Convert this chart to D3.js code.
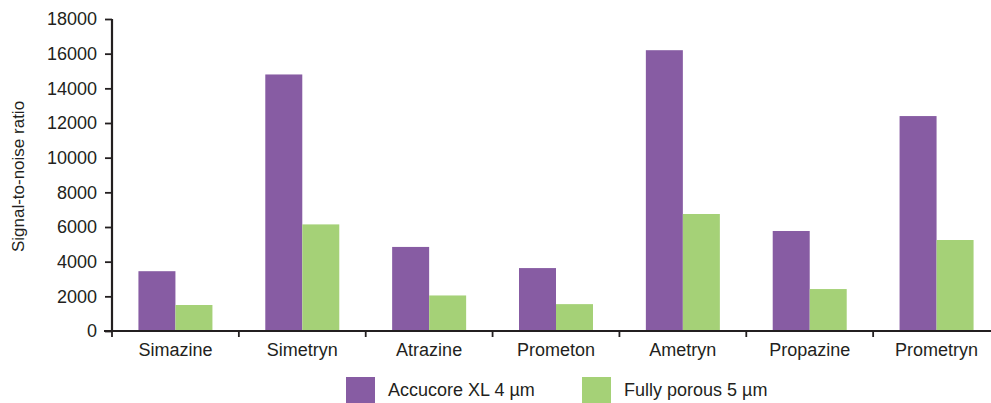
<!DOCTYPE html>
<html lang="en">

<head>
    <meta charset="UTF-8" />
    <title>Signal-to-noise ratio</title>
    <style>
        body { margin: 0; background: #fff; }
        svg text { font-family: "Liberation Sans", Arial, sans-serif; fill: #231f20; }
        .axis path, .axis line { stroke: #231f20; }
    </style>
</head>

<body>
    <svg id="chart"></svg>

    <script src="https://d3js.org/d3.v7.min.js"></script>
    <script>
        const compounds = ['Simazine', 'Simetryn', 'Atrazine', 'Prometon', 'Ametryn', 'Propazine', 'Prometryn'];
        const seriesNames = ['Accucore XL 4 µm', 'Fully porous 5 µm'];
        const accucore = [3450, 14800, 4850, 3630, 16200, 5770, 12400];
        const fullyPorous = [1500, 6150, 2050, 1550, 6750, 2420, 5250];
        const yTicks = [0, 2000, 4000, 6000, 8000, 10000, 12000, 14000, 16000, 18000];
        const colors = ['#875ca3', '#a5d177'];

        const width = 991, height = 403;
        const plotLeft = 112, plotBottom = 331, plotTop = 19, plotRight = 1000;

        const svg = d3.select('#chart').attr('width', width).attr('height', height);

        const x = d3.scaleBand().domain(compounds).range([plotLeft, plotRight]);
        const inner = d3.scaleBand().domain([0, 1]).range([0, 74]);
        const y = d3.scaleLinear().domain([0, 18000]).range([plotBottom, plotTop]);

        const rows = compounds.map((c, i) => ({ name: c, values: [accucore[i], fullyPorous[i]] }));

        const group = svg.selectAll('g.group')
            .data(rows)
            .enter().append('g')
            .attr('class', 'group')
            .attr('transform', d => `translate(${x(d.name) + (x.bandwidth() - 74) / 2},0)`);

        group.selectAll('rect')
            .data(d => d.values)
            .enter().append('rect')
            .attr('x', (d, i) => inner(i))
            .attr('width', inner.bandwidth())
            .attr('y', d => y(d))
            .attr('height', d => plotBottom - y(d))
            .attr('fill', (d, i) => colors[i]);

        // x axis: ticks at band edges
        const xAxis = svg.append('g').attr('class', 'axis')
            .attr('transform', `translate(0,${plotBottom})`);
        xAxis.append('line')
            .attr('x1', plotLeft - 8).attr('x2', plotRight)
            .attr('stroke-width', 2.2);
        xAxis.selectAll('line.tick')
            .data(compounds)
            .enter().append('line')
            .attr('class', 'tick')
            .attr('x1', d => x(d)).attr('x2', d => x(d))
            .attr('y1', 0).attr('y2', 6)
            .attr('stroke-width', 1.8);
        xAxis.selectAll('text')
            .data(compounds)
            .enter().append('text')
            .attr('x', d => x(d) + x.bandwidth() / 2)
            .attr('y', 25)
            .attr('text-anchor', 'middle')
            .style('font-size', '18px')
            .text(d => d);

        const yAxis = svg.append('g').attr('class', 'axis')
            .attr('transform', `translate(${plotLeft},0)`)
            .call(d3.axisLeft(y).tickValues(yTicks).tickSize(7).tickPadding(8).tickFormat(d3.format('d')));
        yAxis.select('.domain').attr('stroke-width', 2.2).attr('d', `M0,${plotTop}V${plotBottom}`);
        yAxis.selectAll('.tick line').attr('stroke-width', 1.8);
        yAxis.selectAll('.tick text')
            .style('font-size', '18px')
            .style('font-family', '"Liberation Sans", Arial, sans-serif')
            .attr('fill', '#231f20');

        svg.append('text')
            .attr('transform', `translate(24,${(95 + 258) / 2}) rotate(-90)`)
            .attr('text-anchor', 'middle')
            .style('font-size', '17px')
            .text('Signal-to-noise ratio');

        // legend
        const legendX = [346, 582];
        const legend = svg.selectAll('g.legend')
            .data(seriesNames)
            .enter().append('g')
            .attr('class', 'legend')
            .attr('transform', (d, i) => `translate(${legendX[i]},377)`);
        legend.append('rect')
            .attr('width', 29).attr('height', 28)
            .attr('fill', (d, i) => colors[i]);
        legend.append('text')
            .attr('x', 42).attr('y', 19)
            .style('font-size', '18px')
            .text(d => d);
    </script>
</body>

</html>
